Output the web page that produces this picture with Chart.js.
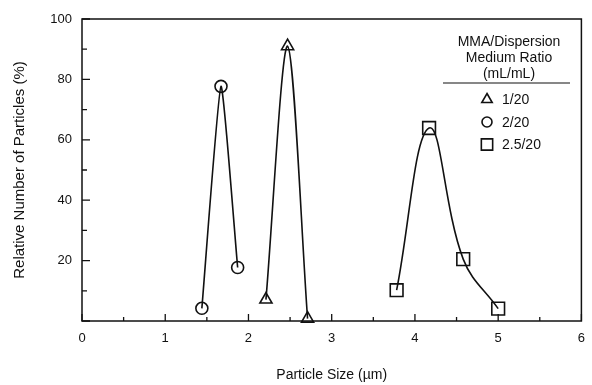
<!DOCTYPE html>
<html>
<head>
<meta charset="utf-8">
<script src="https://cdn.jsdelivr.net/npm/chart.js@4.4.1/dist/chart.umd.min.js"></script>
<style>
  html, body { margin: 0; padding: 0; background: #fff; }
  #wrap { width: 592px; height: 385px; }
</style>
</head>
<body>
<div id="wrap"><canvas id="size-chart"></canvas></div>
<script>
// values
const triSize = [2.21, 2.47, 2.71];
const triPct = [7.1, 91, 0.8];
const circSize = [1.44, 1.67, 1.87];
const circPct = [4.2, 77.7, 17.7];
const sqSize = [3.78, 4.17, 4.58, 5.0];
const sqPct = [10.2, 63.9, 20.5, 4.1];

const seriesLabels = ['1/20', '2/20', '2.5/20'];
const legendTitle = ['MMA/Dispersion', 'Medium Ratio', '(mL/mL)'];
const xTickLabels = ['0', '1', '2', '3', '4', '5', '6'];
const yTickLabels = ['20', '40', '60', '80', '100'];

const ink = '#111';
const fontFam = '"Liberation Sans", Arial, Helvetica, sans-serif';

function pts(xs, ys) {
    return xs.map((x, i) => ({ x: x, y: ys[i] }));
}

function makeSet(label, data, style, radius, tension) {
    return {
        label: label,
        data: data,
        borderColor: ink,
        borderWidth: 1.6,
        pointStyle: style,
        pointRadius: radius,
        pointHoverRadius: radius,
        pointBorderWidth: 1.6,
        pointBorderColor: ink,
        pointBackgroundColor: 'rgba(0,0,0,0)',
        tension: tension,
        fill: false,
        clip: false
    };
}

// frame + inward tick marks
const frameTicks = {
    id: 'frameTicks',
    afterDraw(chart) {
        const ctx = chart.ctx;
        const a = chart.chartArea;
        const xs = chart.scales.x, ys = chart.scales.y;
        ctx.save();
        ctx.strokeStyle = ink;
        ctx.lineWidth = 1.5;
        ctx.strokeRect(a.left, a.top, a.right - a.left, a.bottom - a.top);
        ctx.lineWidth = 1.3;
        ctx.beginPath();
        xs.ticks.forEach(t => {
            const px = xs.getPixelForValue(t.value);
            const len = Number.isInteger(t.value) ? 7 : 4;
            ctx.moveTo(px, a.bottom);
            ctx.lineTo(px, a.bottom - len);
        });
        ys.ticks.forEach(t => {
            const py = ys.getPixelForValue(t.value);
            const len = t.value % 20 === 0 ? 8 : 5;
            ctx.moveTo(a.left, py);
            ctx.lineTo(a.left + len, py);
        });
        ctx.stroke();
        ctx.restore();
    }
};

// legend block in upper right
const boxLegend = {
    id: 'boxLegend',
    afterDraw(chart) {
        const ctx = chart.ctx;
        ctx.save();
        ctx.fillStyle = ink;
        ctx.font = '14px ' + fontFam;
        ctx.textAlign = 'center';
        ctx.textBaseline = 'middle';
        legendTitle.forEach((line, i) => {
            ctx.fillText(line, 509, 42 + i * 16.3);
        });
        ctx.strokeStyle = ink;
        ctx.lineWidth = 1.2;
        ctx.beginPath();
        ctx.moveTo(443, 83);
        ctx.lineTo(570, 83);
        ctx.stroke();
        ctx.textAlign = 'left';
        chart.data.datasets.forEach((ds, i) => {
            const y = 99.5 + i * 22.5;
            ctx.save();
            ctx.fillStyle = 'rgba(0,0,0,0)';
            ctx.strokeStyle = ink;
            ctx.lineWidth = 1.6;
            Chart.helpers.drawPoint(ctx, {
                pointStyle: ds.pointStyle,
                radius: ds.pointRadius - 1,
                borderWidth: 1.6
            }, 487, y);
            ctx.restore();
            ctx.fillText(ds.label, 502, y + 1);
        });
        ctx.restore();
    }
};

const ctx = document.getElementById('size-chart').getContext('2d');
new Chart(ctx, {
    type: 'line',
    data: {
        datasets: [
            makeSet(seriesLabels[0], pts(triSize, triPct), 'triangle', 7, 0.3),
            makeSet(seriesLabels[1], pts(circSize, circPct), 'circle', 6, 0.15),
            makeSet(seriesLabels[2], pts(sqSize, sqPct), 'rect', 9, 0.4)
        ]
    },
    options: {
        responsive: true,
        maintainAspectRatio: false,
        animation: false,
        layout: { padding: { top: 19, right: 4, left: 0, bottom: 0 } },
        plugins: {
            legend: { display: false },
            tooltip: { enabled: false }
        },
        scales: {
            x: {
                type: 'linear',
                min: 0,
                max: 6,
                grid: { display: false },
                border: { display: false },
                ticks: {
                    stepSize: 0.5,
                    padding: 2,
                    color: ink,
                    maxRotation: 0,
                    autoSkip: false,
                    font: { family: fontFam, size: 13 },
                    callback: v => Number.isInteger(v) ? xTickLabels[v] : ''
                },
                title: {
                    display: true,
                    text: 'Particle Size (\u00b5m)',
                    color: ink,
                    font: { family: fontFam, size: 14 },
                    padding: { top: 0, bottom: 1 }
                },
                afterFit: s => { s.height = 64; }
            },
            y: {
                min: 0,
                max: 100,
                grid: { display: false },
                border: { display: false },
                ticks: {
                    stepSize: 10,
                    padding: 2,
                    color: ink,
                    autoSkip: false,
                    font: { family: fontFam, size: 13 },
                    callback: v => yTickLabels.includes(String(v)) ? String(v) : ''
                },
                title: {
                    display: true,
                    text: 'Relative Number of Particles (%)',
                    color: ink,
                    font: { family: fontFam, size: 15 },
                    padding: { top: 11, bottom: 0 }
                },
                afterFit: s => { s.width = 82; }
            }
        }
    },
    plugins: [frameTicks, boxLegend]
});
</script>
</body>
</html>
